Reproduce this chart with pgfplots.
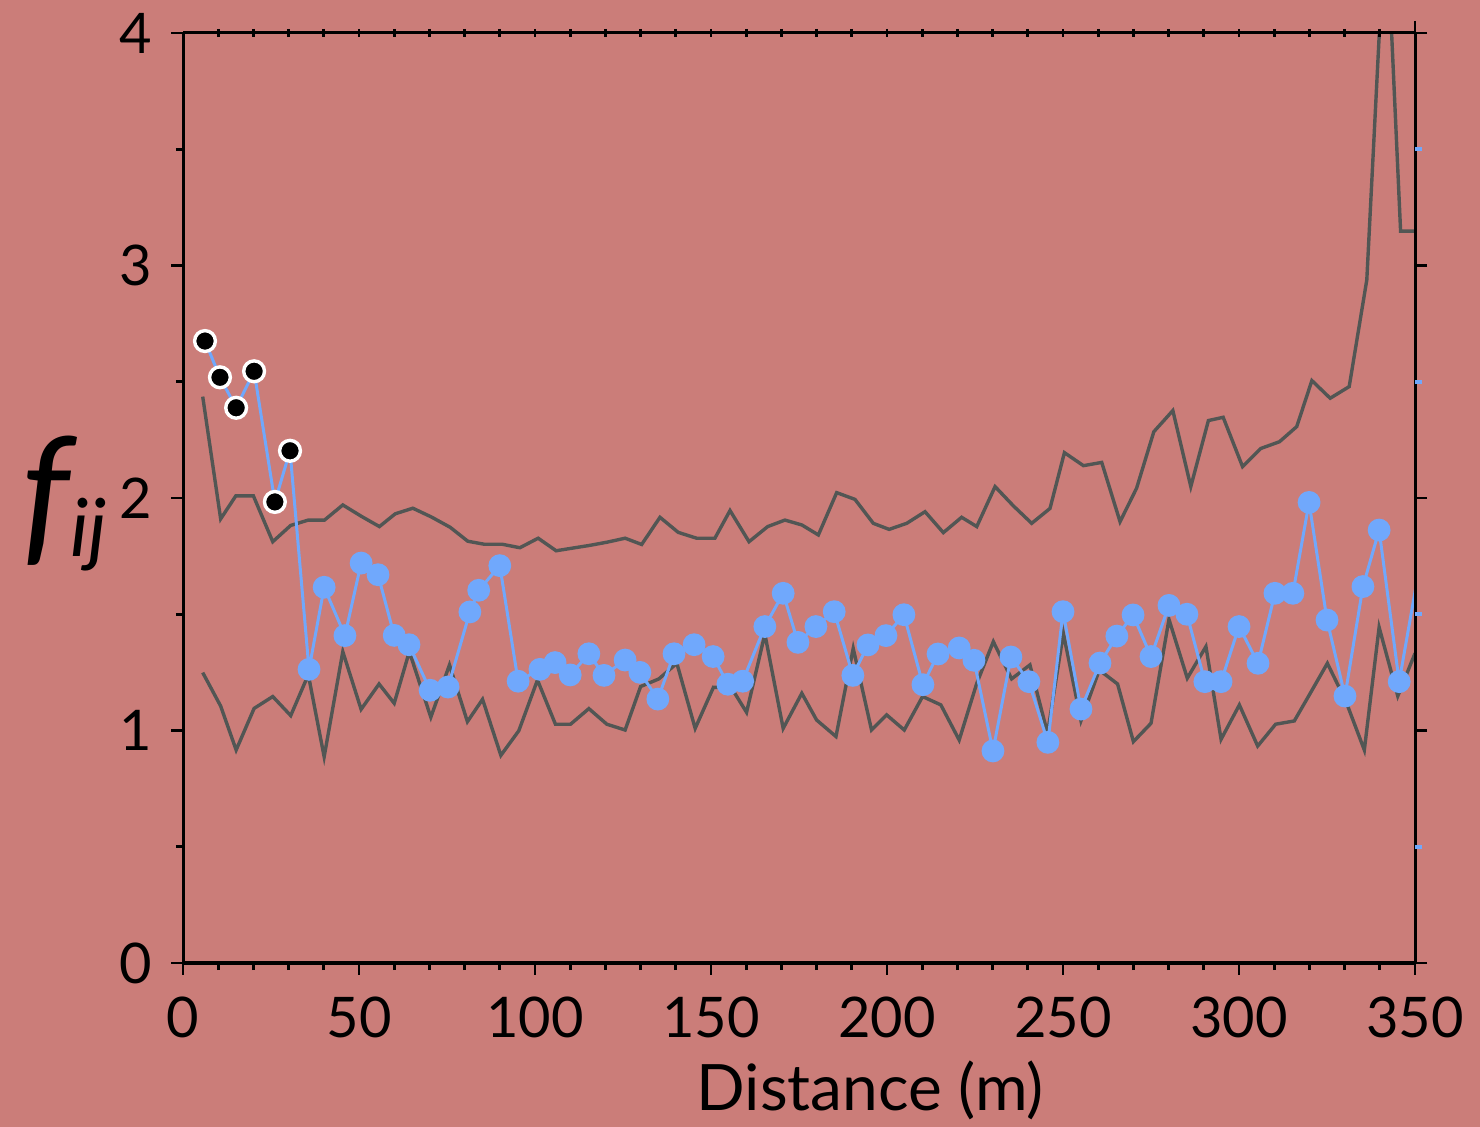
\documentclass[border=0pt]{standalone}
\usepackage{fontspec}
\setmainfont{Lato}
\usepackage{pgfplots}
\pgfplotsset{compat=1.18}
\usetikzlibrary{backgrounds}
\definecolor{bgc}{RGB}{203,125,121}
\definecolor{ptblue}{RGB}{112,168,252}
\definecolor{lgray}{RGB}{82,86,84}
\pgfplotsset{base/.style={scale only axis, width=308pt, height=232.5pt,
  xmin=0, xmax=350, ymin=0, ymax=4,
  tick style={line width=0.7pt, color=black},
  /pgf/number format/assume math mode=true,
  ticklabel style={font=\fontsize{14}{15}\selectfont}}}
\begin{document}
\begin{tikzpicture}
\begin{axis}[base,
  axis x line*=bottom, axis y line*=left,
  x axis line style={line width=1.1pt},
  y axis line style={line width=0.75pt},
  xtick={0,50,...,350}, minor x tick num=4,
  ytick={0,1,2,3,4}, minor y tick num=1,
  tick align=outside, major tick length=3pt, minor tick length=1.8pt,
  xticklabel style={yshift=-2pt},
  yticklabel style={xshift=-1.2pt},
]
\coordinate (bl) at (rel axis cs:0,0);
\coordinate (tr) at (rel axis cs:1,1);
% upper envelope
\addplot[lgray, line width=0.85pt] coordinates {
(5.6,2.436) (10.7,1.910) (15,2.009) (20,2.009) (25.5,1.812) (30.6,1.882)
(35.6,1.905) (40.2,1.905) (45.4,1.970) (50.8,1.920) (55.8,1.877) (60.3,1.932)
(65.3,1.956) (70.6,1.918) (75.9,1.874) (80.9,1.814) (85.6,1.801) (90.7,1.801)
(95.7,1.786) (100.9,1.827) (106,1.773) (110.5,1.784) (115.5,1.796) (120.5,1.810)
(125.6,1.827) (130.3,1.800) (135.5,1.917) (140.7,1.852) (145.9,1.827) (151.1,1.827)
(155.4,1.946) (160.8,1.812) (166.1,1.877) (171,1.905) (175.8,1.884) (180.5,1.841)
(185.7,2.023) (190.9,1.994) (196.1,1.891) (200.6,1.865) (205.6,1.891) (210.8,1.941)
(216,1.851) (221.2,1.917) (225.5,1.877) (230.7,2.049) (235.9,1.966) (241.1,1.891)
(246.3,1.955) (250.4,2.195) (255.8,2.139) (261,2.153) (266.2,1.898) (270.9,2.042)
(275.8,2.285) (281.2,2.376) (286.3,2.049) (291.3,2.333) (295.5,2.347) (301,2.135)
(306.2,2.213) (311.5,2.242) (316.4,2.307) (320.7,2.505) (325.9,2.429) (331.3,2.479)
(336.3,2.938) (341.7,4.55) (345.9,3.148) (350.5,3.148)
};
% lower envelope
\addplot[lgray, line width=0.85pt] coordinates {
(5.6,1.249) (10.7,1.105) (15.1,0.916) (20.2,1.095) (25.5,1.146) (30.6,1.064)
(35.6,1.240) (40.1,0.887) (45.4,1.339) (50.6,1.091) (55.7,1.200) (60.0,1.117)
(64.3,1.339) (70.4,1.057) (75.7,1.282) (80.8,1.038) (85.1,1.134) (90.3,0.893)
(95.4,0.999) (100.7,1.217) (105.8,1.027) (110.1,1.027) (115.3,1.094) (120.4,1.027)
(125.6,1.002) (130.0,1.189) (135.2,1.222) (140.3,1.289) (145.5,1.009) (150.7,1.186)
(155.9,1.181) (160.1,1.078) (165.3,1.415) (170.5,1.009) (175.8,1.160) (180.0,1.045)
(185.5,0.974) (190.4,1.353) (195.6,1.002) (199.9,1.067) (204.9,1.002) (210.1,1.146)
(215.3,1.110) (220.5,0.959) (225.5,1.203) (230.2,1.382) (235.4,1.222) (240.6,1.282)
(245.6,0.988) (250.1,1.418) (255.1,1.042) (260.3,1.260) (265.5,1.200) (270.0,0.952)
(275.0,1.031) (280.1,1.478) (285.3,1.225) (290.6,1.361) (294.9,0.962) (300.1,1.110)
(305.3,0.933) (310.4,1.027) (315.7,1.041) (320.5,1.167) (325.1,1.289) (330.4,1.124)
(335.6,0.916) (339.8,1.444) (345.1,1.148) (350,1.332)
};
% observed line
\addplot[ptblue, line width=0.75pt] coordinates {
(6.25,2.675) (10.5,2.519) (15.1,2.388) (20.2,2.545) (26.1,1.983) (30.4,2.203)
(35.8,1.263) (40.1,1.616) (46.0,1.408) (50.6,1.720) (55.4,1.670) (60.0,1.409)
(64.2,1.369) (70.2,1.173) (75.3,1.187) (81.5,1.510) (84.0,1.603) (90.0,1.709)
(95.2,1.212) (101.4,1.263) (105.7,1.292) (110.0,1.239) (115.3,1.330) (119.6,1.237)
(125.6,1.303) (129.8,1.250) (134.9,1.135) (139.5,1.330) (145.2,1.369) (150.6,1.318)
(154.8,1.199) (159.0,1.212) (165.3,1.447) (170.5,1.590) (174.7,1.379) (179.8,1.447)
(185.0,1.511) (190.3,1.237) (194.6,1.368) (199.7,1.408) (204.8,1.498) (210.2,1.197)
(214.5,1.329) (220.5,1.355) (224.7,1.302) (230.1,0.912) (235.2,1.316) (240.3,1.210)
(245.7,0.949) (250.0,1.511) (255.1,1.092) (260.5,1.290) (265.3,1.406) (269.9,1.497)
(275.0,1.318) (280.1,1.538) (285.2,1.500) (290.3,1.210) (294.9,1.210) (300.0,1.447)
(305.4,1.289) (310.2,1.590) (315.3,1.590) (319.9,1.981) (325.0,1.475) (330.1,1.148)
(335.2,1.619) (339.8,1.862) (345.5,1.210) (350.5,1.64)
};
\addplot[only marks, mark=*, mark size=2.65pt, color=ptblue] coordinates {
(35.8,1.263) (40.1,1.616) (46.0,1.408) (50.6,1.720) (55.4,1.670) (60.0,1.409)
(64.2,1.369) (70.2,1.173) (75.3,1.187) (81.5,1.510) (84.0,1.603) (90.0,1.709)
(95.2,1.212) (101.4,1.263) (105.7,1.292) (110.0,1.239) (115.3,1.330) (119.6,1.237)
(125.6,1.303) (129.8,1.250) (134.9,1.135) (139.5,1.330) (145.2,1.369) (150.6,1.318)
(154.8,1.199) (159.0,1.212) (165.3,1.447) (170.5,1.590) (174.7,1.379) (179.8,1.447)
(185.0,1.511) (190.3,1.237) (194.6,1.368) (199.7,1.408) (204.8,1.498) (210.2,1.197)
(214.5,1.329) (220.5,1.355) (224.7,1.302) (230.1,0.912) (235.2,1.316) (240.3,1.210)
(245.7,0.949) (250.0,1.511) (255.1,1.092) (260.5,1.290) (265.3,1.406) (269.9,1.497)
(275.0,1.318) (280.1,1.538) (285.2,1.500) (290.3,1.210) (294.9,1.210) (300.0,1.447)
(305.4,1.289) (310.2,1.590) (315.3,1.590) (319.9,1.981) (325.0,1.475) (330.1,1.148)
(335.2,1.619) (339.8,1.862) (345.5,1.210)
};
\addplot[only marks, mark=*, mark size=2.6pt, mark options={fill=black, draw=white, line width=0.85pt}] coordinates {
(6.25,2.675) (10.5,2.519) (15.1,2.388) (20.2,2.545) (26.1,1.983) (30.4,2.203)
};
\end{axis}
% top axis
\begin{axis}[base,
  axis x line*=top, axis y line=none,
  x axis line style={line width=0.75pt},
  xtick={10,20,...,340}, xticklabels={},
  tick align=center, major tick length=2pt,
  extra x ticks={350}, extra x tick labels={},
  extra x tick style={tick align=outside, major tick length=3pt},
]
\end{axis}
% right axis
\begin{axis}[base,
  axis y line*=right, axis x line=none,
  y axis line style={line width=0.75pt},
  ytick={0,1,2,3,4}, yticklabels={},
  tick align=outside, major tick length=3pt,
  extra y ticks={0.5,1.5,2.5,3.5}, extra y tick labels={},
  extra y tick style={tick style={color=ptblue, line width=1pt}, major tick length=1.8pt},
]
\end{axis}
\node[anchor=base, font=\fontsize{16}{18}\selectfont] at ([shift={(171.75pt,-37pt)}]bl) {Distance (m)};
\node[anchor=base west, inner sep=0pt, font=\fontsize{38}{38}\selectfont\itshape] at ([shift={(-40.5pt,104pt)}]bl) {f\raisebox{-0.06em}{\fontsize{20}{20}\selectfont ij}};
\pgfresetboundingbox
\path[use as bounding box] ([shift={(-45.75pt,-41pt)}]bl) rectangle ([shift={(16.25pt,8.25pt)}]tr);
\begin{scope}[on background layer]
\fill[bgc] ([shift={(-45.75pt,-41pt)}]bl) rectangle ([shift={(16.25pt,8.25pt)}]tr);
\end{scope}
\end{tikzpicture}
\end{document}
